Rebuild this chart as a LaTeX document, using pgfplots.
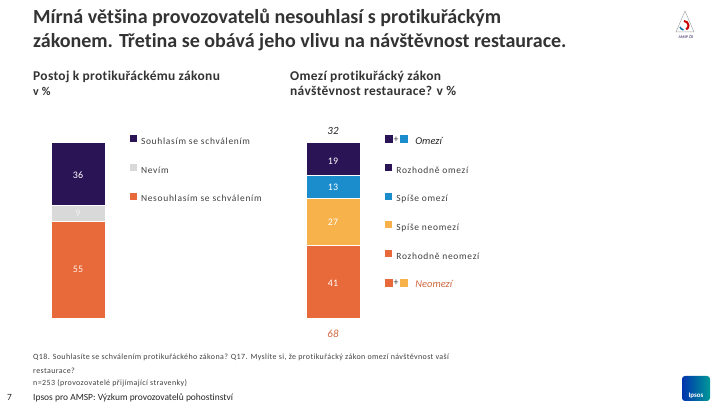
\documentclass[border=0pt]{standalone}
\usepackage{fontspec}
\setmainfont{Carlito}[Ligatures=NoCommon]
\newfontfamily\spaced{Carlito}[LetterSpace=7.5,Ligatures=NoCommon]
\newfontfamily\foot{Carlito}[LetterSpace=5,Ligatures=NoCommon]
\newfontfamily\subfont{Carlito}[LetterSpace=2.5,Ligatures=NoCommon]
\usepackage{pgfplots}
\pgfplotsset{compat=1.18}
\definecolor{navy}{HTML}{2B1456}
\definecolor{lgray}{HTML}{D9D9D9}
\definecolor{orng}{HTML}{E8693A}
\definecolor{blu}{HTML}{1B8DCC}
\definecolor{yel}{HTML}{F7B24B}
\definecolor{txt}{HTML}{404040}
\definecolor{ttl}{HTML}{333333}
\definecolor{negtxt}{HTML}{D0683F}
\pgfplotsset{
  barax/.style={
    anchor=south west, scale only axis, width=54bp, height=176bp,
    axis lines=none, ticks=none, xmin=-0.5, xmax=0.5, ymin=0, ymax=100,
    enlargelimits=false, clip=false, ybar stacked, bar width=1,
    legend cell align=left, reverse legend,
    legend image code/.code={\fill[#1,draw=none] (0bp,-0.5bp) rectangle (7bp,6.5bp);},
    legend style={draw=none, fill=none, inner sep=0pt, outer sep=0pt,
      font=\spaced\fontsize{9.5}{10}\selectfont, text=txt,
      row sep=17.6bp, column sep=4bp,
      nodes={inner sep=0pt, text height=7bp, text depth=2bp},
      at={(1.463,1.037)}, anchor=north west},
  },
}
\tikzset{
  seg/.style={fill=#1, draw=white, line width=0.8bp},
  lab/.style={font=\fontsize{10}{10}\selectfont, text=white, inner sep=0pt},
  plus/.style={font=\fontsize{10}{10}\selectfont, text=txt, inner sep=0pt, anchor=base},
}
\begin{document}
\begin{tikzpicture}[x=1bp,y=1bp]
\path[use as bounding box, fill=white] (0bp,0bp) rectangle (720bp,405bp);

% Left chart
\begin{axis}[barax, at={(51bp,87bp)}]
\addplot[seg=orng] coordinates {(0,55)};
\addlegendentry{Nesouhlasím se schválením}
\addplot[seg=lgray] coordinates {(0,9)};
\addlegendentry{Nevím}
\addplot[seg=navy] coordinates {(0,36)};
\addlegendentry{Souhlasím se schválením}
\end{axis}

% Right chart
\begin{axis}[barax, at={(306bp,87bp)}]
\addlegendimage{legend image code/.code={\fill[orng] (0bp,-0.5bp) rectangle (7bp,6.5bp);
  \begin{pgfinterruptboundingbox}
  \node[plus] at (11bp,-0.3bp) {+};
  \fill[yel] (15bp,-0.5bp) rectangle (22bp,6.5bp);
  \end{pgfinterruptboundingbox}}}
\addlegendentry{\hspace*{19bp}{\normalfont\itshape\fontsize{10.5}{11}\selectfont\color{negtxt}Neomezí}}
\addplot[seg=orng] coordinates {(0,41)};
\addlegendentry{Rozhodně neomezí}
\addplot[seg=yel] coordinates {(0,27)};
\addlegendentry{Spíše neomezí}
\addplot[seg=blu] coordinates {(0,13)};
\addlegendentry{Spíše omezí}
\addplot[seg=navy] coordinates {(0,19)};
\addlegendentry{Rozhodně omezí}
\addlegendimage{legend image code/.code={\fill[navy] (0bp,-0.5bp) rectangle (7bp,6.5bp);
  \begin{pgfinterruptboundingbox}
  \node[plus] at (11bp,-0.3bp) {+};
  \fill[blu] (15bp,-0.5bp) rectangle (22bp,6.5bp);
  \end{pgfinterruptboundingbox}}}
\addlegendentry{\hspace*{19bp}{\normalfont\itshape\fontsize{10.5}{11}\selectfont\color{black!85}Omezí}}
\node[font=\itshape\fontsize{11}{11}\selectfont, text=black!85, inner sep=0pt] at (axis cs:0,106.2) {32};
\node[font=\itshape\fontsize{11}{11}\selectfont, text=negtxt, inner sep=0pt] at (axis cs:0,-9.1) {68};
\end{axis}

% Value labels
\node[lab] at (78bp,229.5bp) {36};
\node[lab, text=white!95!black] at (78bp,191.5bp) {9};
\node[lab, text=white!92!orange] at (78bp,135.5bp) {55};
\node[lab] at (333bp,244bp) {19};
\node[lab] at (333bp,218bp) {13};
\node[lab] at (333bp,183bp) {27};
\node[lab] at (333bp,122bp) {41};

% Titles
\node[anchor=base west, inner sep=0pt, font=\bfseries\fontsize{20.1}{20}\selectfont, text=ttl] at (33bp,381.5bp) {Mírná většina provozovatelů nesouhlasí s protikuřáckým};
\node[anchor=base west, inner sep=0pt, font=\bfseries\fontsize{20.1}{20}\selectfont, text=ttl] at (33bp,357bp) {zákonem. Třetina se obává jeho vlivu na návštěvnost restaurace.};
\node[anchor=base west, inner sep=0pt, font=\subfont\bfseries\fontsize{13.5}{14}\selectfont, text=ttl] at (33bp,324bp) {Postoj k protikuřáckému zákonu};
\node[anchor=base west, inner sep=0pt, font=\subfont\bfseries\fontsize{12}{14}\selectfont, text=ttl] at (33bp,309.5bp) {v \%};
\node[anchor=base west, inner sep=0pt, font=\subfont\bfseries\fontsize{13.5}{14}\selectfont, text=ttl] at (290bp,324bp) {Omezí protikuřácký zákon};
\node[anchor=base west, inner sep=0pt, font=\subfont\bfseries\fontsize{13.5}{14}\selectfont, text=ttl] at (290bp,309.5bp) {návštěvnost restaurace? v \%};

% Footnotes
\node[anchor=base west, inner sep=0pt, font=\foot\fontsize{8}{8}\selectfont, text=txt] at (33bp,45bp) {Q18. Souhlasíte se schválením protikuřáckého zákona? Q17. Myslíte si, že protikuřácký zákon omezí návštěvnost vaší};
\node[anchor=base west, inner sep=0pt, font=\foot\fontsize{8}{8}\selectfont, text=txt] at (33bp,32bp) {restaurace?};
\node[anchor=base west, inner sep=0pt, font=\foot\fontsize{8}{8}\selectfont, text=txt] at (33bp,19.5bp) {n=253 (provozovatelé přijímající stravenky)};
\node[anchor=base west, inner sep=0pt, font=\fontsize{9.5}{10}\selectfont, text=black!85] at (33bp,4.5bp) {Ipsos pro AMSP: Výzkum provozovatelů pohostinství};
\node[anchor=base west, inner sep=0pt, font=\fontsize{9.5}{10}\selectfont, text=black!85] at (7bp,4.5bp) {7};

% AMSP logo
\draw[gray!70, line width=0.5bp] (685bp,394bp) -- (676bp,373bp) -- (694bp,373bp) -- cycle;
\draw[red!80!black, line width=2bp] (684bp,384bp) arc (90:-60:4.5bp);
\draw[blu!80!black, line width=1.5bp] (680bp,378bp) arc (200:260:4.5bp);
\node[font=\fontsize{4}{4}\selectfont, text=navy, inner sep=0pt] at (686bp,368bp) {AMSP ČR};

% Ipsos logo
\shade[left color=blue!60!black!80!cyan, right color=teal!80!cyan, rounded corners=3bp] (682bp,4bp) -- (682bp,29bp) -- (710bp,29bp) -- (710bp,4bp) -- cycle;
\node[font=\bfseries\fontsize{7}{7}\selectfont, text=white, inner sep=0pt] at (696bp,9bp) {Ipsos};
\end{tikzpicture}
\end{document}
